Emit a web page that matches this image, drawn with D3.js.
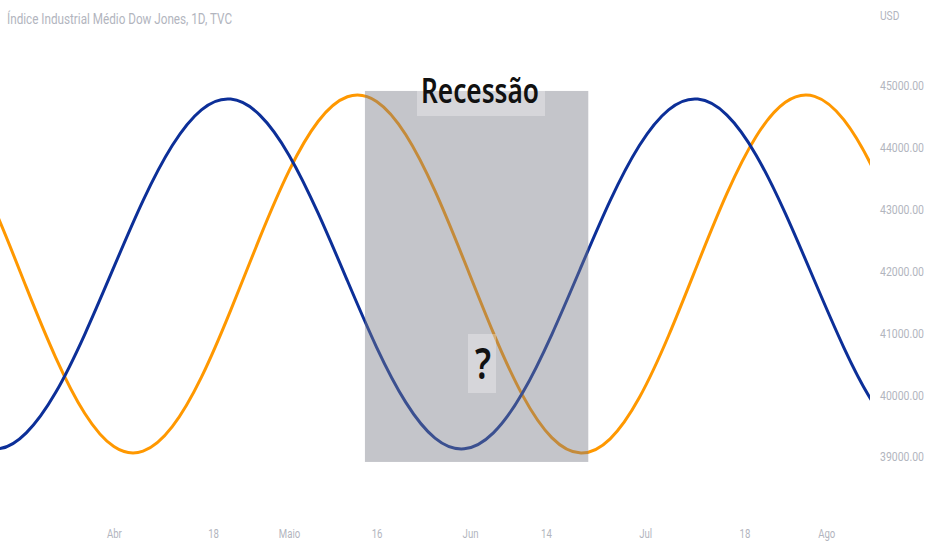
<!DOCTYPE html>
<html>
<head>
<meta charset="utf-8">
<script src="https://cdn.jsdelivr.net/npm/d3@7"></script>
<style>
  html, body { margin: 0; padding: 0; background: #ffffff; }
  svg { display: block; }
</style>
</head>
<body>
<svg id="chart" width="932" height="550"></svg>
<script>
// ---------------- DATA ----------------
const titleText = "Índice Industrial Médio Dow Jones, 1D, TVC";
const currencyLabel = "USD";

const dates = [
  "2025-03-07","2025-03-12","2025-03-17","2025-03-22","2025-03-27",
  "2025-04-01","2025-04-06","2025-04-11","2025-04-16","2025-04-21",
  "2025-04-26","2025-05-01","2025-05-06","2025-05-11","2025-05-16",
  "2025-05-21","2025-05-26","2025-05-31","2025-06-05","2025-06-10",
  "2025-06-15","2025-06-20","2025-06-25","2025-06-30","2025-07-05",
  "2025-07-10","2025-07-15","2025-07-20","2025-07-25","2025-07-30",
  "2025-08-04","2025-08-09","2025-08-14"
];

const blueValues = [
  39305, 39132, 39390, 40038, 40981,
  42070, 43146, 44037, 44615, 44788,
  44530, 43882, 42939, 41850, 40774,
  39883, 39305, 39132, 39390, 40038,
  40981, 42070, 43146, 44037, 44615,
  44788, 44530, 43882, 42939, 41850,
  40774, 39883, 39305
];

const orangeValues = [
  43923, 42913, 41747, 40617, 39708,
  39169, 39094, 39490, 40292, 41372,
  42548, 43628, 44430, 44826, 44751,
  44212, 43303, 42173, 41007, 39997,
  39314, 39065, 39294, 39962, 40961,
  42126, 43263, 44183, 44736, 44833,
  44456, 43665, 42594
];

const priceTicks = [39000, 40000, 41000, 42000, 43000, 44000, 45000];
const timeTickDates = ["2025-04-01","2025-04-18","2025-05-01","2025-05-16","2025-06-01","2025-06-14","2025-07-01","2025-07-18","2025-08-01"];
const timeTickLabels = ["Abr","18","Maio","16","Jun","14","Jul","18","Ago"];

const viewStart = "2025-03-12T12";
const viewEnd = "2025-08-08T12";

const recessionStart = "2025-05-14T00";
const recessionEnd = "2025-06-21T06";
const recessionLow = 38920;
const recessionHigh = 44920;
const recessionLabel = "Recessão";
const questionLabel = "?";

// ---------------- CHART ----------------
const W = 932, H = 550;
const plotRight = 870;
const parseDay = d3.utcParse("%Y-%m-%d");
const parseHour = d3.utcParse("%Y-%m-%dT%H");

const svg = d3.select("#chart");

const x = d3.scaleUtc()
  .domain([parseHour(viewStart), parseHour(viewEnd)])
  .range([0, plotRight]);

const y = d3.scaleLinear()
  .domain([39000, 45000])
  .range([457, 86]);

svg.append("rect").attr("width", W).attr("height", H).attr("fill", "#ffffff");

svg.append("defs").append("clipPath").attr("id", "plotClip")
  .append("rect").attr("x", 0).attr("y", 0).attr("width", plotRight).attr("height", 512);

const plot = svg.append("g").attr("clip-path", "url(#plotClip)");

const dayDates = dates.map(parseDay);
const line = d3.line()
  .x(d => x(d[0]))
  .y(d => y(d[1]))
  .curve(d3.curveNatural);

plot.append("path")
  .datum(dayDates.map((d, i) => [d, orangeValues[i]]))
  .attr("d", line)
  .attr("fill", "none")
  .attr("stroke", "#ff9800")
  .attr("stroke-width", 3)
  .attr("stroke-linejoin", "round");

plot.append("path")
  .datum(dayDates.map((d, i) => [d, blueValues[i]]))
  .attr("d", line)
  .attr("fill", "none")
  .attr("stroke", "#0c2f98")
  .attr("stroke-width", 3)
  .attr("stroke-linejoin", "round");

// recession box
const bx0 = x(parseHour(recessionStart)), bx1 = x(parseHour(recessionEnd));
const by0 = y(recessionHigh), by1 = y(recessionLow);
plot.append("rect")
  .attr("x", bx0).attr("y", by0)
  .attr("width", bx1 - bx0).attr("height", by1 - by0)
  .attr("fill", "rgba(120,123,134,0.44)");

function condense(sel, factor) {
  sel.each(function() {
    const w = this.getComputedTextLength();
    d3.select(this).attr("textLength", w * factor).attr("lengthAdjust", "spacingAndGlyphs");
  });
}

// Recessão label
const labelCx = 481;
plot.append("rect")
  .attr("x", labelCx - 64).attr("y", 78)
  .attr("width", 128).attr("height", 38)
  .attr("fill", "rgba(255,255,255,0.3)");
plot.append("text")
  .attr("x", labelCx - 60).attr("y", 103)
  .attr("font-family", "'Noto Sans', 'Open Sans', sans-serif")
  .attr("font-weight", 600)
  .attr("font-size", 35)
  .attr("fill", "#111111")
  .attr("textLength", 118)
  .attr("lengthAdjust", "spacingAndGlyphs")
  .text(recessionLabel);

// ? label
plot.append("rect")
  .attr("x", 468).attr("y", 334)
  .attr("width", 28).attr("height", 59)
  .attr("fill", "rgba(255,255,255,0.3)");
plot.append("text")
  .attr("x", 483).attr("y", 379)
  .attr("text-anchor", "middle")
  .attr("font-family", "'Noto Sans', 'Open Sans', sans-serif")
  .attr("font-weight", 600)
  .attr("font-size", 44)
  .attr("fill", "#111111")
  .attr("textLength", 16)
  .attr("lengthAdjust", "spacingAndGlyphs")
  .text(questionLabel);

// Title
svg.append("text")
  .attr("x", 7).attr("y", 24)
  .attr("font-family", "Roboto, 'Noto Sans', sans-serif")
  .attr("font-size", 15)
  .attr("fill", "#b2b5be")
  .attr("textLength", 225)
  .attr("lengthAdjust", "spacingAndGlyphs")
  .text(titleText);

// Right price axis
const yAxis = d3.axisRight(y)
  .tickValues(priceTicks)
  .tickFormat(d3.format(".2f"))
  .tickSize(0)
  .tickPadding(6);
const gy = svg.append("g")
  .attr("transform", `translate(${874},0)`)
  .call(yAxis);
gy.select(".domain").remove();
gy.selectAll("text")
  .attr("font-family", "Roboto, 'Noto Sans', sans-serif")
  .attr("font-size", 12)
  .attr("fill", "#b2b5be")
  .attr("textLength", 44)
  .attr("lengthAdjust", "spacingAndGlyphs");

svg.append("text")
  .attr("x", 880).attr("y", 20)
  .attr("font-family", "Roboto, 'Noto Sans', sans-serif")
  .attr("font-size", 12)
  .attr("fill", "#b2b5be")
  .text(currencyLabel)
  .call(condense, 0.85);

// Bottom time axis
const xAxis = d3.axisBottom(x)
  .tickValues(timeTickDates.map(parseDay))
  .tickFormat((d, i) => timeTickLabels[i])
  .tickSize(0)
  .tickPadding(9);
const gx = svg.append("g")
  .attr("transform", `translate(0,${520})`)
  .call(xAxis);
gx.select(".domain").remove();
gx.selectAll("text")
  .attr("font-family", "Roboto, 'Noto Sans', sans-serif")
  .attr("font-size", 12)
  .attr("fill", "#b2b5be")
  .call(condense, 0.8);
</script>
</body>
</html>
